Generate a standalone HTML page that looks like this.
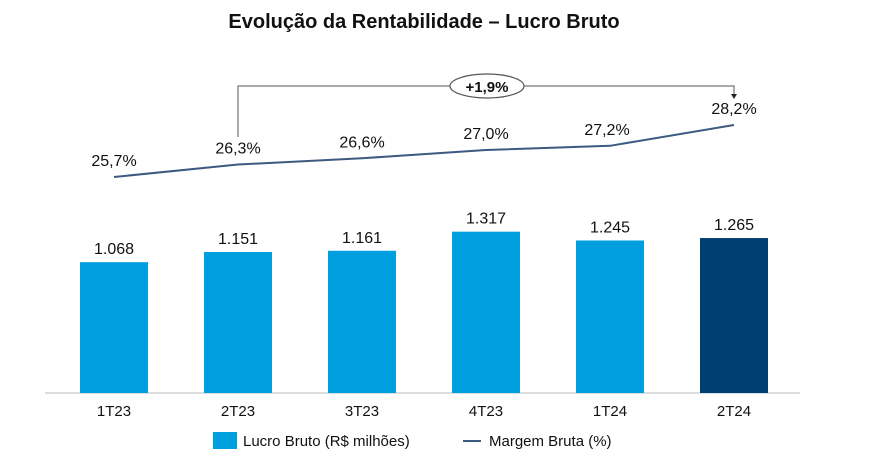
<!DOCTYPE html>
<html><head><meta charset="utf-8"><style>
body{margin:0;background:#fff;width:886px;height:463px;overflow:hidden;font-family:"Liberation Sans",sans-serif}
svg text{font-family:"Liberation Sans",sans-serif}
</style></head><body>
<svg id="chart" width="886" height="463" xmlns="http://www.w3.org/2000/svg">
<text x="424" y="28" text-anchor="middle" font-size="20" font-weight="bold" fill="#111">Evolução da Rentabilidade – Lucro Bruto</text>
<line x1="45" y1="393" x2="800" y2="393" stroke="#bbb" stroke-width="1"/>
<g id="bars"></g><g id="line"></g>
<g>
<polyline points="238,137 238,86 734,86 734,94" fill="none" stroke="#555" stroke-width="1"/>
<polygon points="731,94 737,94 734,99" fill="#222"/>
<ellipse cx="487" cy="86" rx="37" ry="12" fill="#fff" stroke="#555" stroke-width="1.2"/>
<text x="487" y="92" text-anchor="middle" font-size="15" font-weight="bold" fill="#111">+1,9%</text>
</g>
<g>
<rect x="213" y="432" width="24" height="17" fill="#009fe0"/>
<text x="243" y="446" font-size="15" fill="#111">Lucro Bruto (R$ milhões)</text>
<line x1="463" y1="441" x2="481" y2="441" stroke="#3d5a80" stroke-width="2"/>
<text x="489" y="446" font-size="15" fill="#111">Margem Bruta (%)</text>
</g>
</svg>
<script>
const categories=["1T23","2T23","3T23","4T23","1T24","2T24"];
const lucroBruto=[1068,1151,1161,1317,1245,1265];
const lucroLabels=["1.068","1.151","1.161","1.317","1.245","1.265"];
const margemBruta=[25.7,26.3,26.6,27.0,27.2,28.2];
const margemLabels=["25,7%","26,3%","26,6%","27,0%","27,2%","28,2%"];
const NS="http://www.w3.org/2000/svg";
function xC(i){return 114+i*124;}
function yBar(v){return 393-v*0.1225;}
function yLine(v){return 177-(v-25.7)*20.8;}
const bars=document.getElementById('bars');
categories.forEach((c,i)=>{
  const r=document.createElementNS(NS,'rect');
  
  
  const top=yBar(lucroBruto[i]);
  r.setAttribute('x',xC(i)-34);r.setAttribute('y',top);r.setAttribute('width',68);r.setAttribute('height',393-top);
  r.setAttribute('fill',i===5?'#004070':'#009fe0');
  bars.appendChild(r);
  const t=document.createElementNS(NS,'text');
  
  
  t.setAttribute('x',xC(i));t.setAttribute('y',top-8);t.setAttribute('text-anchor','middle');t.setAttribute('font-size','16');t.setAttribute('fill','#111');
  t.textContent=lucroLabels[i];bars.appendChild(t);
  const l=document.createElementNS(NS,'text');
  
  
  l.setAttribute('x',xC(i));l.setAttribute('y',416);l.setAttribute('text-anchor','middle');l.setAttribute('font-size','15');l.setAttribute('fill','#111');
  l.textContent=c;bars.appendChild(l);
});
const lg=document.getElementById('line');
const p=document.createElementNS(NS,'polyline');


p.setAttribute('points',margemBruta.map((v,i)=>xC(i)+','+yLine(v)).join(' '));
p.setAttribute('fill','none');p.setAttribute('stroke','#3d5a80');p.setAttribute('stroke-width','2');
lg.appendChild(p);
margemBruta.forEach((v,i)=>{
  const t=document.createElementNS(NS,'text');
  
  
  t.setAttribute('x',xC(i)+(i===4?-3:0));t.setAttribute('y',yLine(v)-11);t.setAttribute('text-anchor','middle');t.setAttribute('font-size','16');t.setAttribute('fill','#111');
  t.textContent=margemLabels[i];lg.appendChild(t);
});
</script>
</body></html>
